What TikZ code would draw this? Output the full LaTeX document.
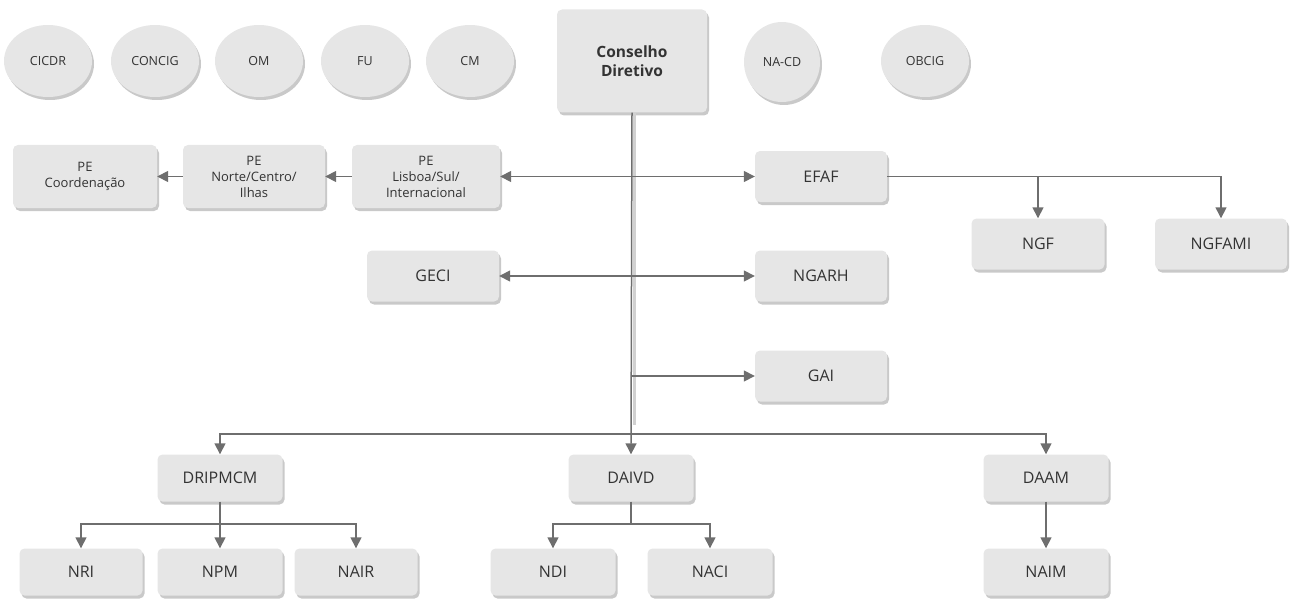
\documentclass[tikz,border=0pt]{standalone}
\usepackage{fontspec}
\setmainfont{Open Sans}
\usetikzlibrary{arrows.meta,shadows,shapes.geometric}
\definecolor{BoxFill}{HTML}{E6E6E6}
\definecolor{LineGray}{HTML}{6E6E6E}
\definecolor{TextInk}{HTML}{333333}

\begin{document}
\begin{tikzpicture}[x=1pt,y=-1pt,
    orgbox/.style={fill=BoxFill, rounded corners=5pt, text=TextInk,
      align=center, inner sep=2pt, minimum width=132pt, minimum height=51pt,
      font=\fontsize{16}{19}\selectfont,
      drop shadow={shadow xshift=2pt, shadow yshift=-3pt, opacity=0.3, fill=black!70}},
    subbox/.style={orgbox, minimum width=125pt, minimum height=47pt},
    pebox/.style={orgbox, minimum height=63pt, font=\fontsize{13}{16}\selectfont},
    orgcirc/.style={ellipse, fill=BoxFill, text=TextInk, inner sep=0pt,
      minimum width=88pt, minimum height=72pt, font=\fontsize{12.5}{15}\selectfont,
      drop shadow={shadow xshift=2pt, shadow yshift=-3pt, opacity=0.3, fill=black!70}},
    link/.style={LineGray, line width=1.5pt},
    tip/.style={link, -{Triangle[length=11pt,width=11pt]}},
    dbl/.style={link, {Triangle[length=11pt,width=11pt]}-{Triangle[length=11pt,width=11pt]}}]
  \useasboundingbox (0,0) rectangle (1290,599);

  % top row of organs
  \foreach \x/\nm/\lab in {48/cicdr/CICDR, 155/concig/CONCIG, 259/om/OM,
                           365/fu/FU, 470/cm/CM, 925/obcig/OBCIG}
    \node[orgcirc] (\nm) at (\x,61) {\lab};
  \node[orgcirc, minimum width=76pt, minimum height=80pt] (nacd) at (782,62) {NA-CD};
  \node[orgbox, minimum width=150pt, minimum height=103pt,
        font=\fontsize{15.5}{19}\selectfont\bfseries] (cd) at (632,61) {Conselho\\Diretivo};

  % second row
  \node[pebox, minimum width=144pt] (pecoo) at (85,176.5) {PE\\Coordenação};
  \node[pebox, minimum width=142pt] (penor) at (254,176.5) {PE\\Norte/Centro/\\Ilhas};
  \node[pebox, minimum width=148pt] (pelis) at (426,176.5) {PE\\Lisboa/Sul/\\Internacional};
  \node[orgbox] (efaf) at (821,176.5) {EFAF};
  \node[orgbox, minimum width=133pt] (ngf) at (1038,244) {NGF};
  \node[orgbox] (ngfami) at (1221,244) {NGFAMI};

  \node[orgbox] (geci) at (433,276) {GECI};
  \node[orgbox] (ngarh) at (821,276) {NGARH};
  \node[orgbox] (gai) at (821,376) {GAI};

  % departments
  \node[subbox] (dripmcm) at (220,478) {DRIPMCM};
  \node[subbox] (daivd) at (631,478) {DAIVD};
  \node[subbox] (daam) at (1046,478) {DAAM};
  \node[subbox, minimum width=123pt] (nri) at (81,572) {NRI};
  \node[subbox] (npm) at (220,572) {NPM};
  \node[subbox, minimum width=123pt] (nair) at (356,572) {NAIR};
  \node[subbox] (ndi) at (553,572) {NDI};
  \node[subbox] (naci) at (710,572) {NACI};
  \node[subbox] (naim) at (1046,572) {NAIM};

  % connectors
  \draw[black!18, line width=3.5pt] ([xshift=2.5pt]cd.south) -- ([xshift=2.5pt]cd.south |- 0,425);
  \draw[tip] (cd.south) -- (daivd.north);
  \draw[dbl] (pelis.east) -- (efaf.west);
  \draw[tip] (pelis.west) -- (penor.east);
  \draw[tip] (penor.west) -- (pecoo.east);
  \draw[tip] (efaf.east) -| (ngfami.north);
  \draw[tip] (efaf.east -| ngf.north) -- (ngf.north);
  \draw[dbl] (geci.east) -- (ngarh.west);
  \draw[tip] (cd.south |- gai.west) -- (gai.west);

  \coordinate (bus) at (cd.south |- 0,434);
  \draw[tip] (bus) -| (dripmcm.north);
  \draw[tip] (bus) -| (daam.north);

  \coordinate (drj) at (dripmcm.south |- 0,524);
  \draw[tip] (dripmcm.south) -- (npm.north);
  \draw[tip] (drj) -| (nri.north);
  \draw[tip] (drj) -| (nair.north);
  \coordinate (daj) at (daivd.south |- 0,524);
  \draw[link] (daivd.south) -- (daj);
  \draw[tip] (daj) -| (ndi.north);
  \draw[tip] (daj) -| (naci.north);
  \draw[tip] (daam.south) -- (naim.north);
\end{tikzpicture}
\end{document}
